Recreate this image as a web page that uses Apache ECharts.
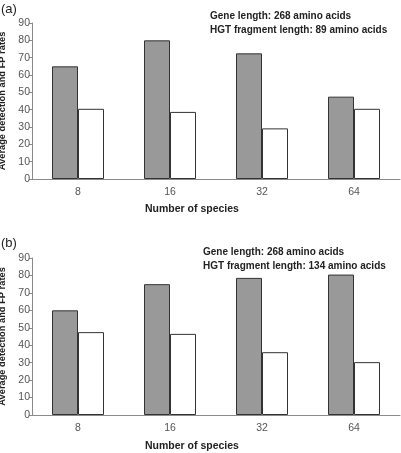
<!DOCTYPE html>
<html><head><meta charset="utf-8">
<script src="https://cdn.jsdelivr.net/npm/echarts@6/dist/echarts.min.js"></script>
<style>html,body{margin:0;padding:0;background:#fff}#c{width:401px;height:453px}</style>
</head><body><div id="c"></div>
<script>
const categories = ['8', '16', '32', '64'];
const yTicks = [0, 10, 20, 30, 40, 50, 60, 70, 80, 90];
const detectionA = [65, 80, 72.5, 47.5];
const fpA = [40.5, 38.7, 29.2, 40.5];
const detectionB = [60, 75, 78.6, 80.5];
const fpB = [47.5, 46.5, 36, 30.3];
const panelLabels = ['(a)', '(b)'];
const notesA = ['Gene length: 268 amino acids', 'HGT fragment length: 89 amino acids'];
const notesB = ['Gene length: 268 amino acids', 'HGT fragment length: 134 amino acids'];
const xName = 'Number of species';
const yName = 'Average detection and FP rates';

const font = 'Liberation Sans, Arial, sans-serif';
const axisCol = '#8a8a8a';
const chart = echarts.init(document.getElementById('c'));
function xAx(i) {
  return { type: 'category', gridIndex: i, data: categories,
    axisLine: { lineStyle: { color: axisCol, width: 1 } }, axisTick: { show: false },
    axisLabel: { color: '#555', fontSize: 10.5, fontFamily: font, margin: 8 } };
}
function yAx(i) {
  return { type: 'value', gridIndex: i, min: 0, max: 90, interval: 10,
    axisLine: { show: true, lineStyle: { color: axisCol } },
    axisTick: { show: true, length: 3, lineStyle: { color: axisCol } },
    splitLine: { show: false },
    axisLabel: { color: '#555', fontSize: 10.5, fontFamily: font, margin: 2 },
    name: yName, nameLocation: 'middle', nameGap: 25, nameRotate: 90,
    nameTextStyle: { fontWeight: 'bold', fontSize: 9.3, color: '#222', fontFamily: font } };
}
function bar(i, data, color) {
  return { type: 'bar', xAxisIndex: i, yAxisIndex: i, data: data, barWidth: 26, barGap: '0%',
    itemStyle: { color: color, borderColor: '#333', borderWidth: 1 }, silent: true };
}
function txt(x, y, s, size, bold) {
  return { type: 'text', left: x, top: y, silent: true,
    style: { text: s, fontSize: size, fontWeight: bold ? 'bold' : 'normal', fill: '#222', fontFamily: font } };
}
chart.setOption({
  animation: false,
  grid: [
    { left: 32, right: 1, top: 23, height: 156, outerBoundsMode: 'none', containLabel: false },
    { left: 32, right: 1, top: 258, height: 157, outerBoundsMode: 'none', containLabel: false }
  ],
  xAxis: [xAx(0), xAx(1)],
  yAxis: [yAx(0), yAx(1)],
  series: [
    bar(0, detectionA, '#999999'), bar(0, fpA, '#ffffff'),
    bar(1, detectionB, '#999999'), bar(1, fpB, '#ffffff')
  ],
  graphic: [
    txt(1, 3, panelLabels[0], 13, false),
    txt(1, 237, panelLabels[1], 13, false),
    txt(210, 11, notesA[0], 10, true),
    txt(210, 25, notesA[1], 10, true),
    txt(203, 247, notesB[0], 10, true),
    txt(203, 261, notesB[1], 10, true),
    txt(145, 204, xName, 10.5, true),
    txt(145, 441, xName, 10.5, true)
  ]
});
</script></body></html>
